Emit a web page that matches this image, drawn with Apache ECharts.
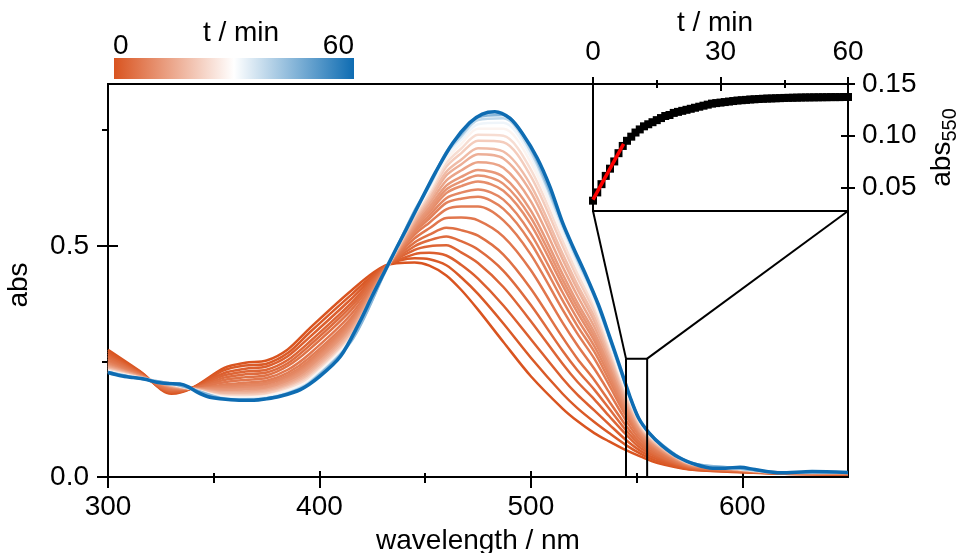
<!DOCTYPE html>
<html>
<head>
<meta charset="utf-8">
<script src="https://cdn.jsdelivr.net/npm/echarts@6/dist/echarts.min.js"></script>
<style>
html, body { margin: 0; padding: 0; background: #fff; }
#chart { width: 965px; height: 553px; }
</style>
</head>
<body>
<div id="chart"></div>
<script>
// Wavelength grid (nm) shared by the time-resolved spectra
const wavelengths = [300, 315, 330, 340, 355, 365, 375, 385, 395, 415, 431, 445, 452, 460, 467, 475, 487, 500, 515, 522, 530, 537, 545, 552, 560, 575, 595, 620, 650];

// Acquisition time (min) of each spectrum below
const spectraTimes = [0, 1, 2, 3, 4, 5, 6, 7, 8, 9, 10, 11, 12, 14, 16, 18, 21, 24, 28, 32, 38, 45];

// Absorbance of each spectrum on the wavelength grid (one row per time)
const spectra = [
  [.275, .229, .180, .193, .236, .247, .252, .276, .320, .403, .457, .464, .457, .436, .405, .362, .292, .218, .148, .121, .095, .077, .058, .044, .030, .016, .011, .007, .005],
  [.271, .228, .182, .193, .231, .241, .245, .268, .311, .394, .456, .473, .471, .458, .432, .396, .332, .258, .180, .149, .119, .095, .069, .050, .034, .017, .012, .007, .005],
  [.267, .226, .184, .193, .225, .234, .239, .261, .301, .385, .455, .482, .485, .479, .459, .429, .371, .298, .213, .178, .144, .114, .080, .056, .038, .019, .012, .008, .006],
  [.263, .225, .185, .192, .220, .228, .232, .253, .291, .376, .454, .491, .499, .501, .486, .463, .411, .337, .245, .206, .168, .132, .092, .062, .042, .020, .013, .008, .006],
  [.260, .224, .187, .192, .215, .222, .226, .246, .283, .369, .453, .499, .512, .520, .510, .492, .446, .372, .273, .231, .189, .148, .101, .068, .045, .021, .014, .008, .007],
  [.256, .223, .188, .192, .210, .216, .220, .240, .275, .361, .452, .507, .524, .539, .534, .522, .481, .407, .302, .256, .210, .164, .111, .073, .048, .022, .014, .008, .007],
  [.253, .222, .190, .192, .205, .210, .214, .232, .265, .352, .451, .516, .538, .560, .561, .555, .520, .447, .334, .285, .234, .183, .122, .079, .052, .023, .015, .008, .007],
  [.249, .221, .192, .191, .200, .204, .208, .225, .257, .344, .450, .524, .550, .579, .585, .585, .555, .481, .362, .310, .256, .199, .132, .085, .055, .024, .016, .009, .008],
  [.247, .220, .193, .191, .197, .200, .204, .220, .251, .339, .449, .530, .559, .593, .602, .606, .580, .506, .382, .327, .271, .210, .139, .089, .058, .025, .016, .009, .008],
  [.245, .219, .194, .191, .194, .197, .201, .217, .246, .334, .448, .534, .566, .603, .615, .622, .600, .526, .399, .342, .283, .220, .145, .092, .060, .026, .017, .009, .008],
  [.243, .218, .195, .191, .191, .194, .197, .213, .242, .330, .448, .539, .573, .614, .629, .639, .619, .546, .415, .356, .295, .229, .150, .095, .062, .027, .017, .009, .008],
  [.241, .218, .195, .191, .189, .191, .195, .210, .238, .326, .447, .542, .578, .622, .639, .652, .634, .561, .427, .367, .304, .236, .155, .097, .063, .027, .017, .009, .008],
  [.240, .218, .196, .191, .187, .189, .192, .207, .234, .323, .447, .545, .584, .630, .649, .664, .649, .576, .439, .377, .313, .243, .159, .099, .065, .028, .017, .009, .009],
  [.238, .217, .197, .191, .184, .185, .189, .203, .230, .319, .446, .550, .591, .641, .663, .681, .669, .596, .455, .392, .325, .252, .164, .103, .067, .028, .018, .009, .009],
  [.236, .216, .198, .191, .182, .182, .186, .199, .225, .314, .446, .554, .598, .652, .676, .698, .689, .616, .471, .406, .337, .261, .170, .106, .068, .029, .018, .009, .009],
  [.234, .216, .198, .191, .180, .180, .183, .196, .221, .311, .445, .558, .603, .660, .686, .711, .704, .631, .483, .416, .347, .268, .174, .108, .070, .029, .018, .009, .009],
  [.232, .215, .199, .190, .177, .177, .180, .193, .217, .306, .445, .562, .610, .671, .700, .727, .724, .650, .500, .431, .359, .277, .180, .111, .072, .030, .019, .010, .009],
  [.231, .215, .200, .190, .175, .174, .177, .190, .213, .303, .444, .566, .615, .679, .710, .740, .738, .665, .512, .441, .368, .284, .184, .113, .073, .030, .019, .010, .009],
  [.229, .214, .201, .190, .173, .172, .175, .187, .209, .300, .444, .569, .621, .687, .720, .753, .753, .680, .524, .452, .377, .291, .188, .116, .075, .031, .019, .010, .010],
  [.228, .214, .201, .190, .171, .170, .173, .184, .206, .297, .444, .572, .625, .694, .729, .763, .766, .693, .534, .461, .384, .297, .192, .118, .076, .031, .020, .010, .010],
  [.227, .213, .202, .190, .170, .168, .171, .182, .204, .295, .443, .574, .629, .699, .736, .772, .776, .703, .542, .468, .390, .301, .195, .119, .077, .032, .020, .010, .010],
  [.227, .213, .202, .190, .169, .167, .170, .181, .202, .293, .443, .576, .631, .703, .741, .778, .783, .710, .548, .473, .395, .305, .197, .120, .078, .032, .020, .010, .010]
];

// Final spectrum (60 min), sampled more finely
const finalTime = 60;
const finalWavelengths = [300, 306, 312, 317, 323, 328, 334, 338, 342, 347, 353, 362, 369, 375, 381, 391, 400, 410, 419, 425,
  431, 437, 441, 448, 455, 463, 471, 477, 483, 490, 496, 503, 509, 515, 520, 526, 532, 537, 542, 547,
  551, 556, 562, 570, 578, 586, 592, 599, 606, 618, 633, 650];
const finalAbs = [.226, .219, .215, .212, .205, .202, .201, .195, .184, .174, .169, .166, .166, .169, .174, .189, .217, .261, .335, .392,
  .446, .500, .535, .598, .660, .722, .766, .785, .790, .776, .743, .690, .628, .550, .497, .437, .372, .307, .240, .172,
  .127, .095, .068, .042, .027, .019, .019, .021, .016, .009, .012, .010];

// Kinetic trace: absorbance at 550 nm vs time
const kineticTimes = [0, 1, 2, 3, 4, 5, 6, 7, 8, 9, 10, 11, 12, 13, 14, 15, 16, 17, 18, 19, 20,
  21, 22, 23, 24, 25, 26, 27, 28, 29, 30, 31, 32, 33, 34, 35, 36, 37, 38, 39, 40,
  41, 42, 43, 44, 45, 46, 47, 48, 49, 50, 51, 52, 53, 54, 55, 56, 57, 58, 59, 60];
const abs550 = [.037, .045, .053, .061, .068, .075, .083, .090, .095, .099, .103,
  .106, .109, .111, .113, .115, .117, .119, .120, .122, .123,
  .124, .125, .126, .127, .128, .129, .130, .131, .1315, .132,
  .1325, .133, .1335, .134, .1343, .1346, .135, .1352, .1355, .1357,
  .1359, .136, .1362, .1363, .1365, .1366, .1367, .1368, .1369, .137,
  .137, .1371, .1371, .1372, .1372, .1373, .1373, .1373, .1374, .1374];

// Initial-rate linear fit
const fitTimes = [0, 7.2];
const fitAbs = [0.038, 0.092];

// Wavelength window enlarged by the inset
const zoomBand = [545, 555];
const zoomTop = 0.256;

// Tick positions and labels
const xTicks = [300, 400, 500, 600];
const xMinor = [350, 450, 550];
const yTicks = [0, 0.5];
const yMinor = [0.25, 0.75];
const tTicks = [0, 30, 60];
const tMinor = [15, 45];
const absTicks = [0.05, 0.10, 0.15];
const colorbarLabels = ['0', '60'];

// ---- styling ----
const FONT = '"Liberation Sans", Arial, Helvetica, sans-serif';
const FS = 28;
const ORANGE = [217, 84, 32];
const WHITE = [255, 255, 255];
const BLUE = [14, 108, 178];
const rgb = c => 'rgb(' + c.map(Math.round).join(',') + ')';
function timeColor(t) {
  const seg = t <= 30 ? [ORANGE, WHITE, t / 30] : [WHITE, BLUE, (t - 30) / 30];
  return rgb(seg[0].map((c, i) => c + (seg[1][i] - c) * seg[2]));
}

const MAIN = { left: 108, top: 84, width: 740, height: 393 };
const INSET = { left: 593, top: 84, width: 255, height: 127 };
const X_RANGE = [300, 650], Y_RANGE = [0, 0.85];
const T_RANGE = [0, 60], A_RANGE = [0.027, 0.15];
const LINE = { color: '#000', width: 2 };
const txt = { fontSize: FS, color: '#000', fontFamily: FONT };

function axis(gridIndex, range, position) {
  return {
    type: 'value', gridIndex, min: range[0], max: range[1], position,
    splitLine: { show: false },
    axisLine: { show: false, onZero: false },
    axisTick: { show: false },
    axisLabel: { show: false }
  };
}
function ticks(a, values, length, inside) {
  a.axisTick = { show: true, customValues: values, length, inside, lineStyle: LINE };
  return a;
}
function frame(a) {
  a.axisLine = { show: true, onZero: false, lineStyle: LINE };
  return a;
}

const grids = [MAIN, MAIN, MAIN, MAIN, INSET, INSET, INSET, INSET].map((r, i) => Object.assign({}, r, {
  show: i === 0 || i === 4,
  containLabel: false,
  outerBoundsMode: 'none',
  borderColor: '#000',
  borderWidth: 2,
  backgroundColor: i === 4 ? '#fff' : 'transparent'
}));

const xAxes = [
  Object.assign(frame(ticks(axis(0, X_RANGE, 'bottom'), xTicks, 11, false)), {
    axisLabel: Object.assign({ show: true, customValues: xTicks, margin: 16 }, txt),
    name: 'wavelength / nm', nameLocation: 'middle', nameGap: 50, nameTextStyle: txt
  }),
  ticks(axis(1, X_RANGE, 'bottom'), xTicks, 6, true),
  ticks(axis(2, X_RANGE, 'bottom'), xMinor, 6, false),
  ticks(axis(3, X_RANGE, 'bottom'), xMinor, 4, true),
  Object.assign(frame(ticks(axis(4, T_RANGE, 'top'), tTicks, 7, false)), {
    axisLabel: Object.assign({ show: true, customValues: tTicks, margin: 18 }, txt),
    name: 't / min', nameLocation: 'middle', nameGap: 46,
    nameTextStyle: Object.assign({ padding: [0, 11, 0, 0] }, txt)
  }),
  ticks(axis(5, T_RANGE, 'top'), tTicks, 7, true),
  ticks(axis(6, T_RANGE, 'top'), tMinor, 4, false),
  ticks(axis(7, T_RANGE, 'top'), tMinor, 4, true)
];

const yAxes = [
  Object.assign(frame(ticks(axis(0, Y_RANGE, 'left'), yTicks, 11, false)), {
    axisLabel: Object.assign({ show: true, customValues: yTicks, margin: 19, formatter: v => v.toFixed(1) }, txt),
    name: 'abs', nameLocation: 'middle', nameGap: 75, nameRotate: 90,
    nameTextStyle: Object.assign({ padding: [0, 9, 0, 0] }, txt)
  }),
  ticks(axis(1, Y_RANGE, 'left'), yTicks, 10, true),
  ticks(axis(2, Y_RANGE, 'left'), yMinor, 6, false),
  axis(3, Y_RANGE, 'left'),
  Object.assign(frame(ticks(axis(4, A_RANGE, 'right'), absTicks, 7, false)), {
    axisLabel: Object.assign({ show: true, customValues: absTicks, margin: 14, formatter: v => v.toFixed(2) }, txt),
    name: '{b|abs}{s|550}', nameLocation: 'middle', nameGap: 80, nameRotate: 90,
    nameTextStyle: {
      color: '#000', fontFamily: FONT,
      rich: {
        b: { fontSize: FS, lineHeight: 28, fontFamily: FONT, color: '#000' },
        s: { fontSize: 20, lineHeight: 20, padding: [16, 0, 0, 0], fontFamily: FONT, color: '#000' }
      }
    }
  }),
  ticks(axis(5, A_RANGE, 'right'), absTicks, 7, true),
  axis(6, A_RANGE, 'right'),
  axis(7, A_RANGE, 'right')
];

const series = [];
spectraTimes.forEach((t, i) => {
  series.push({
    type: 'line', xAxisIndex: 0, yAxisIndex: 0, silent: true,
    data: wavelengths.map((w, j) => [w, spectra[i][j]]),
    showSymbol: false, smooth: 0.3, z: 2,
    lineStyle: { width: 2.5, color: timeColor(t) }
  });
});
series.push({
  type: 'line', xAxisIndex: 0, yAxisIndex: 0, silent: true,
  data: finalWavelengths.map((w, j) => [w, finalAbs[j]]),
  showSymbol: false, smooth: 0.3, z: 3,
  lineStyle: { width: 3.5, color: timeColor(finalTime) }
});
const zoomSeriesIndex = series.length;
series.push({
  type: 'line', xAxisIndex: 0, yAxisIndex: 0, silent: true,
  data: [[zoomBand[0], 0], [zoomBand[0], zoomTop], [zoomBand[1], zoomTop], [zoomBand[1], 0]],
  showSymbol: false, z: 5,
  lineStyle: { width: 2, color: '#000' }
});
const insetSeriesIndex = series.length;
series.push({
  type: 'scatter', xAxisIndex: 4, yAxisIndex: 4, silent: true,
  data: kineticTimes.map((t, j) => [t, abs550[j]]),
  symbol: 'rect', symbolSize: 8, z: 6,
  itemStyle: { color: '#000', opacity: 1 }
});
series.push({
  type: 'line', xAxisIndex: 4, yAxisIndex: 4, silent: true,
  data: fitTimes.map((t, j) => [t, fitAbs[j]]),
  showSymbol: false, z: 7,
  lineStyle: { width: 3.5, color: '#ff0000' }
});

const chart = echarts.init(document.getElementById('chart'), null, { renderer: 'canvas' });
chart.setOption({
  animation: false,
  backgroundColor: '#fff',
  textStyle: { fontFamily: FONT },
  grid: grids,
  xAxis: xAxes,
  yAxis: yAxes,
  series
});

// Colour bar for the acquisition time, and the connectors of the zoom window
const p1 = chart.convertToPixel({ seriesIndex: zoomSeriesIndex }, [zoomBand[0], zoomTop]);
const p2 = chart.convertToPixel({ seriesIndex: zoomSeriesIndex }, [zoomBand[1], zoomTop]);
const q1 = chart.convertToPixel({ seriesIndex: insetSeriesIndex }, [T_RANGE[0], A_RANGE[0]]);
const q2 = chart.convertToPixel({ seriesIndex: insetSeriesIndex }, [T_RANGE[1], A_RANGE[0]]);

const bar = { x: 114, y: 58, width: 240, height: 21 };
chart.setOption({
  graphic: [
    {
      type: 'rect', shape: bar, z: 10,
      style: {
        fill: new echarts.graphic.LinearGradient(0, 0, 1, 0, [
          { offset: 0, color: timeColor(0) },
          { offset: 0.5, color: timeColor(30) },
          { offset: 1, color: timeColor(60) }
        ])
      }
    },
    { type: 'text', x: bar.x - 1, y: 46, z: 10,
      style: { text: colorbarLabels[0], font: FS + 'px ' + FONT, fill: '#000', textAlign: 'left', textVerticalAlign: 'middle' } },
    { type: 'text', x: bar.x + bar.width, y: 46, z: 10,
      style: { text: colorbarLabels[1], font: FS + 'px ' + FONT, fill: '#000', textAlign: 'right', textVerticalAlign: 'middle' } },
    { type: 'text', x: 241, y: 33, z: 10,
      style: { text: 't / min', font: FS + 'px ' + FONT, fill: '#000', textAlign: 'center', textVerticalAlign: 'middle' } },
    { type: 'line', z: 10, shape: { x1: p1[0], y1: p1[1], x2: q1[0], y2: q1[1] }, style: { stroke: '#000', lineWidth: 2 } },
    { type: 'line', z: 10, shape: { x1: p2[0], y1: p2[1], x2: q2[0], y2: q2[1] }, style: { stroke: '#000', lineWidth: 2 } }
  ]
});
</script>
</body>
</html>
